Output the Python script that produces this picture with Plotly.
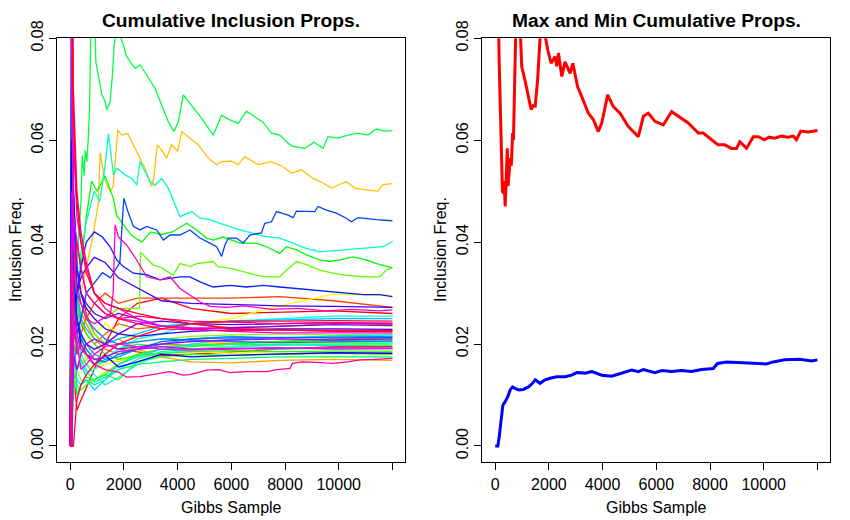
import colorsys
import plotly.graph_objects as go

# shared sample grid for the bundle of ordinary variables
grid = [0, 50, 120, 250, 400, 600, 900, 1300, 1800, 2500, 3400, 4500, 6000, 7800, 9800, 12000]

# ordinary variables, keyed by their rainbow colour slot (0..47)
v00 = [0, 0.0, 0.015, 0.007, 0.009, 0.0115, 0.015, 0.02, 0.025, 0.028, 0.029, 0.027, 0.026, 0.0262, 0.0265, 0.026]
v01 = [0.2, 0.09, 0.05, 0.035, 0.03, 0.026, 0.022, 0.02, 0.019, 0.0185, 0.0178, 0.018, 0.0185, 0.019, 0.0195, 0.0195]
v02 = [0, 0.04, 0.02, 0.018, 0.022, 0.025, 0.028, 0.03, 0.028, 0.029, 0.029, 0.029, 0.029, 0.0293, 0.0285, 0.0272]
v03 = [0, 0.0, 0.03, 0.028, 0.024, 0.022, 0.02, 0.022, 0.024, 0.023, 0.0235, 0.024, 0.0232, 0.0235, 0.024, 0.0238]
v04 = [0.2, 0.06, 0.04, 0.03, 0.026, 0.024, 0.021, 0.019, 0.018, 0.0195, 0.02, 0.0198, 0.0202, 0.0205, 0.021, 0.0212]
v05 = [0, 0.0, 0.02, 0.015, 0.016, 0.017, 0.019, 0.02, 0.021, 0.019, 0.0175, 0.0165, 0.0163, 0.0168, 0.017, 0.0168]
v07 = [0, 0.03, 0.02, 0.025, 0.022, 0.02, 0.018, 0.017, 0.0165, 0.018, 0.019, 0.02, 0.0205, 0.02, 0.0203, 0.0205]
v08 = [0, 0.0, 0.01, 0.015, 0.018, 0.02, 0.022, 0.024, 0.022, 0.021, 0.022, 0.024, 0.025, 0.0275, 0.0298, 0.0295]
v09 = [0, 0.05, 0.03, 0.02, 0.017, 0.016, 0.015, 0.016, 0.017, 0.0175, 0.018, 0.0185, 0.0182, 0.0185, 0.0183, 0.0184]
v10 = [0.2, 0.07, 0.035, 0.025, 0.02, 0.017, 0.016, 0.0165, 0.018, 0.019, 0.0195, 0.0198, 0.0195, 0.02, 0.0199, 0.02]
v11 = [0, 0.0, 0.012, 0.015, 0.013, 0.0125, 0.013, 0.0145, 0.016, 0.0175, 0.018, 0.019, 0.0195, 0.02, 0.0202, 0.0204]
v12 = [0, 0.05, 0.03, 0.028, 0.026, 0.025, 0.022, 0.02, 0.019, 0.0205, 0.021, 0.0215, 0.0218, 0.022, 0.0218, 0.022]
v14 = [0, 0.0, 0.02, 0.012, 0.011, 0.012, 0.013, 0.014, 0.013, 0.0165, 0.0175, 0.018, 0.0178, 0.018, 0.0182, 0.018]
v15 = [0.2, 0.08, 0.04, 0.03, 0.025, 0.022, 0.02, 0.018, 0.017, 0.0178, 0.0182, 0.0185, 0.0187, 0.0185, 0.0186, 0.0186]
v17 = [0, 0.0, 0.018, 0.02, 0.016, 0.0135, 0.013, 0.014, 0.016, 0.018, 0.019, 0.0195, 0.02, 0.0205, 0.0207, 0.0209]
v19 = [0, 0.04, 0.02, 0.01, 0.012, 0.013, 0.012, 0.013, 0.015, 0.016, 0.0165, 0.017, 0.0172, 0.0175, 0.0175, 0.0175]
v20 = [0.2, 0.1, 0.04, 0.028, 0.022, 0.018, 0.016, 0.017, 0.019, 0.02, 0.0195, 0.0198, 0.02, 0.0198, 0.0197, 0.0198]
v21 = [0, 0.0, 0.01, 0.015, 0.017, 0.015, 0.0125, 0.0135, 0.015, 0.017, 0.0185, 0.019, 0.0192, 0.019, 0.0192, 0.0193]
v23 = [0, 0.05, 0.035, 0.022, 0.018, 0.016, 0.014, 0.012, 0.0135, 0.016, 0.018, 0.019, 0.0195, 0.0198, 0.02, 0.0202]
v24 = [0.2, 0.06, 0.03, 0.02, 0.016, 0.0145, 0.015, 0.017, 0.019, 0.021, 0.022, 0.024, 0.0245, 0.025, 0.0255, 0.0255]
v25 = [0, 0.0, 0.02, 0.013, 0.012, 0.013, 0.011, 0.013, 0.016, 0.0175, 0.019, 0.02, 0.021, 0.0212, 0.0216, 0.0218]
v26 = [0, 0.07, 0.04, 0.03, 0.025, 0.023, 0.021, 0.02, 0.021, 0.022, 0.0235, 0.024, 0.0245, 0.0248, 0.025, 0.025]
v27 = [0, 0.0, 0.015, 0.02, 0.022, 0.02, 0.018, 0.017, 0.0175, 0.019, 0.02, 0.021, 0.0215, 0.0212, 0.0214, 0.0215]
v28 = [0.2, 0.08, 0.05, 0.032, 0.028, 0.025, 0.023, 0.021, 0.02, 0.0205, 0.021, 0.0208, 0.0205, 0.0203, 0.0205, 0.0206]
v29 = [0, 0.0, 0.03, 0.025, 0.021, 0.019, 0.017, 0.0165, 0.018, 0.019, 0.0205, 0.021, 0.0212, 0.0213, 0.0212, 0.0213]
v32 = [0, 0.06, 0.035, 0.025, 0.02, 0.018, 0.016, 0.0178, 0.0155, 0.0165, 0.018, 0.0175, 0.0178, 0.018, 0.0183, 0.0182]
v33 = [0.2, 0.1, 0.05, 0.035, 0.03, 0.027, 0.025, 0.023, 0.022, 0.0215, 0.022, 0.0225, 0.0228, 0.023, 0.023, 0.0229]
v34 = [0, 0.0, 0.02, 0.03, 0.033, 0.035, 0.037, 0.036, 0.033, 0.031, 0.0285, 0.028, 0.0278, 0.0275, 0.0274, 0.0272]
v35 = [0, 0.04, 0.03, 0.025, 0.022, 0.02, 0.019, 0.02, 0.022, 0.024, 0.0245, 0.024, 0.0238, 0.024, 0.0242, 0.024]
v36 = [0.2, 0.09, 0.045, 0.035, 0.03, 0.028, 0.026, 0.025, 0.026, 0.025, 0.0235, 0.023, 0.0232, 0.0235, 0.0238, 0.0236]
v37 = [0, 0.0, 0.018, 0.015, 0.018, 0.02, 0.021, 0.02, 0.019, 0.0195, 0.02, 0.0205, 0.0208, 0.021, 0.0208, 0.021]
v38 = [0, 0.05, 0.03, 0.022, 0.019, 0.018, 0.017, 0.0175, 0.0185, 0.019, 0.0195, 0.019, 0.0192, 0.0193, 0.019, 0.0191]
v39 = [0.2, 0.07, 0.045, 0.04, 0.035, 0.03, 0.028, 0.026, 0.025, 0.0245, 0.0235, 0.0232, 0.023, 0.0228, 0.0226, 0.0226]
v40 = [0, 0.0, 0.025, 0.02, 0.015, 0.016, 0.018, 0.0195, 0.02, 0.0195, 0.019, 0.0188, 0.019, 0.0192, 0.0193, 0.0192]
v41 = [0.2, 0.1, 0.06, 0.045, 0.04, 0.035, 0.03, 0.028, 0.027, 0.025, 0.0235, 0.023, 0.0225, 0.0222, 0.0222, 0.0222]
v44 = [0, 0.0, 0.03, 0.04, 0.035, 0.03, 0.028, 0.026, 0.025, 0.0255, 0.025, 0.0245, 0.0243, 0.024, 0.0242, 0.0241]
v45 = [0.2, 0.12, 0.07, 0.05, 0.042, 0.036, 0.03, 0.027, 0.025, 0.024, 0.023, 0.0228, 0.0226, 0.0228, 0.0227, 0.0227]
v46 = [0, 0.0, 0.0, 0.009, 0.012, 0.014, 0.016, 0.018, 0.02, 0.0215, 0.023, 0.024, 0.0245, 0.0245, 0.0246, 0.0245]
v47 = [0.2, 0.1, 0.065, 0.048, 0.04, 0.034, 0.03, 0.028, 0.027, 0.026, 0.025, 0.024, 0.023, 0.0228, 0.0225, 0.0225]

# the variables that stand out, read as (sample, proportion) pairs
orange_06 = [(0, 0.0), (50, 0.05), (120, 0.03), (250, 0.025), (400, 0.03), (600, 0.035), (800, 0.04),
             (1000, 0.046), (1053, 0.0479), (1115, 0.0575), (1300, 0.052), (1487, 0.0499), (1600, 0.051),
             (1772, 0.062), (1920, 0.061), (2143, 0.0613), (2354, 0.0591), (2602, 0.0565), (2788, 0.0545),
             (3036, 0.0509), (3120, 0.053), (3246, 0.0591), (3407, 0.0581), (3593, 0.0565), (3779, 0.0591),
             (4002, 0.0578), (4151, 0.0617), (4460, 0.0604), (4770, 0.0591), (5142, 0.0565), (5451, 0.0552),
             (5637, 0.0558), (6009, 0.0559), (6257, 0.0552), (6504, 0.0568), (7000, 0.0552), (7496, 0.0558),
             (7929, 0.0548), (8239, 0.0535), (8611, 0.0542), (9045, 0.0525), (9416, 0.0516), (9726, 0.0506),
             (10283, 0.0519), (10593, 0.0506), (10965, 0.0503), (11460, 0.05), (11646, 0.0513), (12000, 0.0515)]
green_B_13 = [(0, 0.0), (50, 0.03), (120, 0.05), (250, 0.035), (400, 0.03), (600, 0.028), (900, 0.026),
              (1300, 0.025), (1800, 0.027), (2300, 0.027), (2580, 0.027), (2620, 0.038), (2800, 0.037),
              (3100, 0.0355), (3400, 0.035), (3830, 0.0335), (4089, 0.0358), (4460, 0.0352), (4709, 0.0358),
              (5328, 0.0362), (5500, 0.0352), (5948, 0.0349), (6443, 0.0342), (6939, 0.0335), (7310, 0.0332),
              (7806, 0.0332), (8054, 0.0345), (8425, 0.0362), (8797, 0.0356), (9293, 0.0345), (9788, 0.0339),
              (10284, 0.0335), (10904, 0.0332), (11523, 0.0332), (11771, 0.0345), (12000, 0.035)]
green_A_16 = [(0, 0.0), (50, 0.08), (120, 0.04), (250, 0.03), (400, 0.035), (600, 0.045), (800, 0.052),
              (1000, 0.05), (1300, 0.053), (1611, 0.0485), (1735, 0.0452), (1920, 0.0439), (2292, 0.0413),
              (2664, 0.040), (3000, 0.042), (3400, 0.0415), (3800, 0.042), (4337, 0.0437), (4709, 0.0424),
              (5080, 0.0408), (5328, 0.0404), (5700, 0.041), (6319, 0.0398), (6939, 0.0398), (7310, 0.0391),
              (7806, 0.0378), (8054, 0.0391), (8425, 0.0385), (8797, 0.0375), (9293, 0.0365), (9665, 0.0362),
              (10036, 0.0365), (10532, 0.0371), (11027, 0.0365), (11523, 0.0356), (12000, 0.035)]
green_top_18 = [(0, 0.0), (50, 0.0), (120, 0.025), (250, 0.035), (400, 0.048), (450, 0.057), (520, 0.053),
                (560, 0.058), (620, 0.0558), (680, 0.061), (720, 0.066), (780, 0.085), (930, 0.082),
                (954, 0.0754), (1078, 0.0722), (1177, 0.069), (1300, 0.0676), (1363, 0.066), (1487, 0.0676),
                (1573, 0.0728), (1635, 0.0787), (1697, 0.081), (1858, 0.0805), (1982, 0.0787), (2081, 0.0767),
                (2230, 0.0754), (2416, 0.0741), (2602, 0.0748), (2850, 0.0728), (3160, 0.0702), (3407, 0.0669),
                (3655, 0.0636), (3866, 0.0617), (4027, 0.0636), (4213, 0.0689), (4522, 0.0669), (4894, 0.0643),
                (5327, 0.061), (5637, 0.0649), (5947, 0.064), (6257, 0.0633), (6566, 0.0657), (6876, 0.0646),
                (7186, 0.0635), (7496, 0.0614), (7805, 0.061), (8115, 0.0594), (8301, 0.0588), (8735, 0.0584),
                (9082, 0.0596), (9416, 0.0584), (9602, 0.0607), (9974, 0.0604), (10345, 0.061), (10717, 0.0614),
                (11089, 0.061), (11398, 0.0622), (11700, 0.0618), (12000, 0.0619)]
aqua_22 = [(0, 0.0), (50, 0.0), (120, 0.02), (250, 0.03), (400, 0.038), (600, 0.044), (900, 0.05),
           (1100, 0.048), (1300, 0.055), (1425, 0.0613), (1611, 0.0532), (1735, 0.0545), (2044, 0.0532),
           (2292, 0.0525), (2478, 0.0512), (2602, 0.0558), (2974, 0.0519), (3160, 0.0512), (3407, 0.0525),
           (3655, 0.0506), (4089, 0.045), (4523, 0.046), (4832, 0.0447), (5204, 0.0444), (5576, 0.0437),
           (5948, 0.043), (6319, 0.0424), (6691, 0.0419), (7186, 0.0412), (7806, 0.0408), (8302, 0.0398),
           (8797, 0.0388), (9293, 0.0381), (9788, 0.0383), (10284, 0.0385), (10780, 0.0388), (11647, 0.0391),
           (12000, 0.0401)]
blue_30 = [(0, 0.0), (50, 0.06), (120, 0.03), (250, 0.022), (400, 0.025), (600, 0.03), (900, 0.032),
           (1200, 0.034), (1500, 0.033), (1850, 0.036), (1950, 0.045), (2000, 0.0486), (2168, 0.0457),
           (2354, 0.0431), (2602, 0.0424), (2850, 0.0431), (3222, 0.0424), (3470, 0.0404), (3717, 0.0414),
           (4089, 0.0414), (4460, 0.0424), (4832, 0.0408), (5204, 0.0398), (5452, 0.0391), (5638, 0.0372),
           (5762, 0.0394), (5886, 0.0408), (6195, 0.0408), (6443, 0.0398), (6691, 0.0414), (7124, 0.0418),
           (7248, 0.0437), (7496, 0.044), (7682, 0.046), (8116, 0.0453), (8302, 0.0448), (8425, 0.0461),
           (9107, 0.046), (9231, 0.047), (9541, 0.0463), (9912, 0.0457), (10284, 0.0447), (10470, 0.044),
           (10718, 0.0448), (11399, 0.0444), (12000, 0.0442)]
blue_31 = [(0, 0.0), (50, 0.1), (120, 0.05), (250, 0.03), (400, 0.035), (600, 0.04), (900, 0.042),
           (1200, 0.041), (1487, 0.0391), (1735, 0.0365), (1982, 0.0352), (2354, 0.0339), (2850, 0.0336),
           (3345, 0.0326), (3717, 0.0329), (4089, 0.0332), (4460, 0.0332), (4832, 0.0322), (5328, 0.0312),
           (5948, 0.0315), (6567, 0.0312), (7186, 0.0315), (7806, 0.0312), (8425, 0.0309), (9045, 0.0306),
           (9665, 0.0303), (10284, 0.030), (10904, 0.0297), (11523, 0.0297), (12000, 0.0293)]
magenta_42 = [(0, 0.2), (50, 0.09), (120, 0.04), (250, 0.03), (400, 0.028), (600, 0.025), (900, 0.024),
              (1200, 0.025), (1500, 0.026), (1600, 0.03), (1673, 0.0434), (1800, 0.041), (2106, 0.0394),
              (2478, 0.0365), (2850, 0.0332), (3345, 0.0326), (3717, 0.0332), (4089, 0.0309), (4460, 0.0296),
              (4832, 0.0283), (5204, 0.0274), (5800, 0.0272), (6500, 0.0275), (7500, 0.0268), (8500, 0.027),
              (9500, 0.0265), (10500, 0.0268), (11500, 0.0265), (12000, 0.0267)]
magenta_43 = [(0, 0.0), (50, 0.04), (120, 0.025), (250, 0.018), (400, 0.02), (600, 0.018), (900, 0.016),
              (1300, 0.015), (1800, 0.0145), (2100, 0.0135), (2602, 0.0136), (3000, 0.014), (3345, 0.0143),
              (3717, 0.0146), (4200, 0.0139), (4461, 0.014), (5080, 0.0149), (5520, 0.015), (5950, 0.0144),
              (6570, 0.0146), (7310, 0.0146), (7690, 0.015), (8120, 0.0152), (8177, 0.0152), (8280, 0.0162),
              (8620, 0.0165), (9170, 0.0164), (9790, 0.0162), (10350, 0.0165), (10780, 0.0169), (11340, 0.017),
              (12000, 0.0172)]

# right panel: running max and min over all variables
max_props = [(0, 1.0), (50, 0.2), (100, 0.09), (150, 0.075), (200, 0.065), (232, 0.055), (270, 0.05),
             (300, 0.0496), (330, 0.052), (372, 0.047), (400, 0.053), (420, 0.055), (450, 0.0584), (480, 0.051),
             (500, 0.053), (530, 0.056), (560, 0.0565), (600, 0.055), (620, 0.058), (650, 0.0614), (680, 0.06),
             (700, 0.066), (740, 0.075), (780, 0.085), (930, 0.082), (990, 0.0744), (1100, 0.072),
             (1240, 0.0686), (1340, 0.066), (1420, 0.0668), (1490, 0.0667), (1580, 0.0718), (1670, 0.08),
             (1760, 0.081), (1860, 0.0805), (1960, 0.0777), (2080, 0.0751), (2230, 0.0764), (2290, 0.0745),
             (2355, 0.0771), (2480, 0.0725), (2600, 0.0754), (2790, 0.0731), (2890, 0.0751), (3070, 0.0705),
             (3220, 0.0686), (3470, 0.0653), (3660, 0.064), (3840, 0.0617), (3970, 0.0634), (4190, 0.0689),
             (4400, 0.0666), (4650, 0.0653), (4960, 0.0627), (5330, 0.0607), (5520, 0.0647), (5700, 0.0653),
             (5950, 0.0637), (6260, 0.063), (6570, 0.0656), (6820, 0.0647), (7190, 0.0634), (7560, 0.0614),
             (7750, 0.0614), (8060, 0.0601), (8300, 0.0591), (8550, 0.0591), (8800, 0.0584), (8990, 0.0584),
             (9110, 0.0597), (9360, 0.0584), (9610, 0.0607), (9800, 0.0607), (10020, 0.0601), (10200, 0.0606),
             (10410, 0.0604), (10660, 0.0608), (10900, 0.0606), (11100, 0.0608), (11220, 0.0601),
             (11380, 0.0618), (11650, 0.0616), (12000, 0.0619)]
min_props = [(0, 0.0), (100, 0.0), (150, 0.0018), (220, 0.0058), (285, 0.008), (372, 0.0087), (470, 0.0097),
             (560, 0.011), (645, 0.0116), (740, 0.0113), (870, 0.011), (1050, 0.0111), (1240, 0.0116),
             (1390, 0.0123), (1490, 0.013), (1670, 0.0123), (1860, 0.013), (2045, 0.0133), (2290, 0.0136),
             (2600, 0.0136), (2850, 0.0139), (3040, 0.0144), (3350, 0.0143), (3600, 0.0146), (3970, 0.0139),
             (4340, 0.0137), (4710, 0.0143), (5080, 0.0149), (5330, 0.0146), (5520, 0.015), (5950, 0.0144),
             (6200, 0.0148), (6570, 0.0146), (6940, 0.0148), (7310, 0.0146), (7690, 0.015), (8120, 0.0152),
             (8280, 0.0162), (8620, 0.0165), (9170, 0.0164), (9790, 0.0162), (10100, 0.0161), (10350, 0.0165),
             (10780, 0.0169), (11340, 0.017), (11780, 0.0167), (12000, 0.0169)]

x_ticks = [0, 2000, 4000, 6000, 8000, 10000, 12000]
x_tick_text = ['0', '2000', '4000', '6000', '8000', '10000', '']
y_ticks = [0.0, 0.02, 0.04, 0.06, 0.08]
y_tick_text = ['0.00', '0.02', '0.04', '0.06', '0.08']

N_COLORS = 48

# the page body adds an 8px margin, so the figure is drawn 8px smaller and
# every pixel position below is measured on the 850x520 screenshot
PAD = 8
W, H = 850 - PAD, 520 - PAD


def px_x(p):
    return (p - PAD) / W


def px_y(p):
    return 1 - (p - PAD) / H


def rainbow(i):
    r, g, b = colorsys.hsv_to_rgb(i / N_COLORS, 1, 1)
    return '#%02X%02X%02X' % (round(r * 255), round(g * 255), round(b * 255))


grid_lines = {0: v00, 1: v01, 2: v02, 3: v03, 4: v04, 5: v05, 7: v07, 8: v08, 9: v09, 10: v10,
              11: v11, 12: v12, 14: v14, 15: v15, 17: v17, 19: v19, 20: v20, 21: v21, 23: v23,
              24: v24, 25: v25, 26: v26, 27: v27, 28: v28, 29: v29, 32: v32, 33: v33, 34: v34,
              35: v35, 36: v36, 37: v37, 38: v38, 39: v39, 40: v40, 41: v41, 44: v44, 45: v45,
              46: v46, 47: v47}
pair_lines = {6: orange_06, 13: green_B_13, 16: green_A_16, 18: green_top_18, 22: aqua_22,
              30: blue_30, 31: blue_31, 42: magenta_42, 43: magenta_43}

fig = go.Figure()

# draw in column order like matplot, so the reds/pinks end up on top
for i in range(N_COLORS):
    if i in grid_lines:
        xs, ys = grid, grid_lines[i]
    else:
        xs = [p[0] for p in pair_lines[i]]
        ys = [p[1] for p in pair_lines[i]]
    fig.add_trace(go.Scatter(x=xs, y=ys, mode='lines', xaxis='x', yaxis='y',
                             line=dict(color=rainbow(i), width=1.3), hoverinfo='skip'))

fig.add_trace(go.Scatter(x=[p[0] for p in max_props], y=[p[1] for p in max_props], mode='lines',
                         xaxis='x2', yaxis='y2', line=dict(color='#FF0000', width=3)))
fig.add_trace(go.Scatter(x=[p[0] for p in min_props], y=[p[1] for p in min_props], mode='lines',
                         xaxis='x2', yaxis='y2', line=dict(color='#0000FF', width=3)))

FONT = 'Liberation Sans, Arial, sans-serif'

x_axis = dict(range=[-480, 12480], tickvals=x_ticks, ticktext=x_tick_text, ticks='outside',
              ticklen=7, tickcolor='black', showline=True, linecolor='black', linewidth=1,
              mirror=True, showgrid=False, zeroline=False, automargin=False,
              tickfont=dict(size=16, color='black'))
y_axis = dict(range=[-0.0032, 0.08], tickvals=y_ticks, ticktext=y_tick_text, ticks='outside',
              ticklen=7, tickcolor='black', tickangle=-90, showline=True, linecolor='black',
              linewidth=1, mirror=True, showgrid=False, zeroline=False, automargin=False,
              tickfont=dict(size=16, color='black'))

fig.update_layout(
    template='none',
    width=W, height=H,
    margin=dict(l=0, r=0, t=0, b=0, pad=0),
    paper_bgcolor='white', plot_bgcolor='white',
    showlegend=False,
    font=dict(family=FONT, size=16, color='black'),
    xaxis=dict(x_axis, domain=[px_x(57.3), px_x(405.3)], anchor='y'),
    yaxis=dict(y_axis, domain=[px_y(462.3), px_y(38.3)], anchor='x'),
    xaxis2=dict(x_axis, domain=[px_x(482.3), px_x(830.3)], anchor='y2'),
    yaxis2=dict(y_axis, domain=[px_y(462.3), px_y(38.3)], anchor='x2'),
)

titles = [('<b>Cumulative Inclusion Props.</b>', 231), ('<b>Max and Min Cumulative Props.</b>', 656)]
for text, cx in titles:
    fig.add_annotation(text=text, xref='paper', yref='paper', x=px_x(cx), y=px_y(20),
                       showarrow=False, font=dict(size=19.2), xanchor='center', yanchor='middle')
for cx in [231, 656]:
    fig.add_annotation(text='Gibbs Sample', xref='paper', yref='paper', x=px_x(cx), y=px_y(507),
                       showarrow=False, font=dict(size=16), xanchor='center', yanchor='middle')
for cx in [15, 440]:
    fig.add_annotation(text='Inclusion Freq.', xref='paper', yref='paper', x=px_x(cx), y=px_y(250),
                       showarrow=False, textangle=-90, font=dict(size=16), xanchor='center',
                       yanchor='middle')

fig.write_html('out.html')
